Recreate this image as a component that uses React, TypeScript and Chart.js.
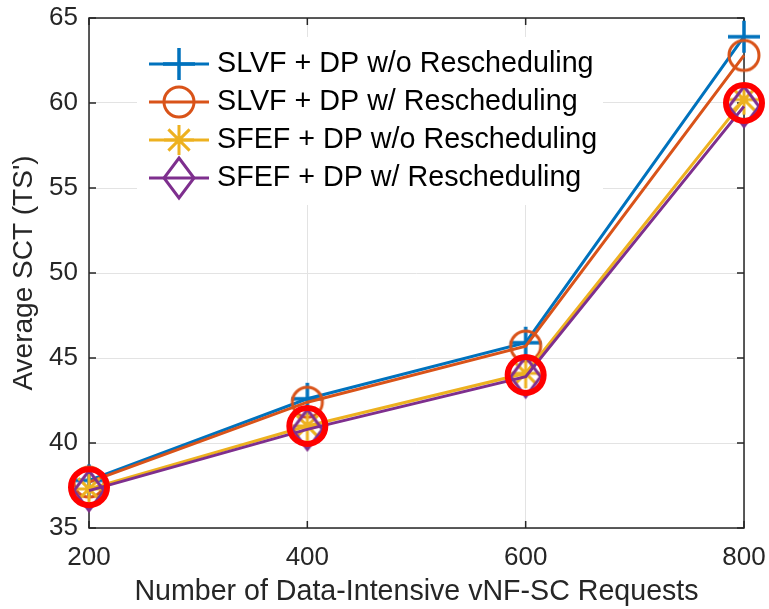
import React, { useEffect, useRef } from "react";
import { Chart, registerables } from "chart.js";

Chart.register(...registerables);

// ---- data ----
const requestCounts = [200, 400, 600, 800];
const slvfWithoutResched = [37.8, 42.6, 45.9, 63.9];
const slvfWithResched = [37.7, 42.4, 45.7, 62.8];
const sfefWithoutResched = [37.3, 41.0, 44.1, 60.2];
const sfefWithResched = [37.2, 40.8, 43.9, 59.8];
const highlightedPoints = [37.4, 41.0, 44.0, 60.0];
const seriesLabels = [
  "SLVF + DP w/o Rescheduling",
  "SLVF + DP w/ Rescheduling",
  "SFEF + DP w/o Rescheduling",
  "SFEF + DP w/ Rescheduling",
];
const xAxisTitle = "Number of Data-Intensive vNF-SC Requests";
const yAxisTitle = "Average SCT (TS')";

const COLORS = ["#0072BD", "#D95319", "#EDB120", "#7E2F8E"];
const MARKERS = ["plus", "circle", "star", "diamond"];
const FONT = "Arial, 'Liberation Sans', Helvetica, sans-serif";
const AXIS_COLOR = "#262626";

function makeMarker(kind: string, color: string): HTMLCanvasElement {
  const c = document.createElement("canvas");
  const w = 38;
  const h = kind === "diamond" ? 46 : 38;
  c.width = w;
  c.height = h;
  const ctx = c.getContext("2d")!;
  ctx.strokeStyle = color;
  ctx.lineWidth = 3;
  const cx = w / 2;
  const cy = h / 2;
  ctx.beginPath();
  if (kind === "plus") {
    ctx.lineWidth = 3.5;
    ctx.moveTo(cx - 16, cy);
    ctx.lineTo(cx + 16, cy);
    ctx.moveTo(cx, cy - 16);
    ctx.lineTo(cx, cy + 16);
  } else if (kind === "circle") {
    ctx.arc(cx, cy, 15, 0, Math.PI * 2);
  } else if (kind === "star") {
    for (let i = 0; i < 4; i++) {
      const a = (i * Math.PI) / 4;
      ctx.moveTo(cx - 15 * Math.cos(a), cy - 15 * Math.sin(a));
      ctx.lineTo(cx + 15 * Math.cos(a), cy + 15 * Math.sin(a));
    }
  } else if (kind === "diamond") {
    ctx.moveTo(cx, cy - 20);
    ctx.lineTo(cx + 15, cy);
    ctx.lineTo(cx, cy + 20);
    ctx.lineTo(cx - 15, cy);
    ctx.closePath();
  }
  ctx.stroke();
  return c;
}

export default function App() {
  const canvasRef = useRef<HTMLCanvasElement | null>(null);

  useEffect(() => {
    const canvas = canvasRef.current;
    if (!canvas) return;
    const markerImgs = MARKERS.map((m, i) => makeMarker(m, COLORS[i]));
    const seriesValues = [
      slvfWithoutResched,
      slvfWithResched,
      sfefWithoutResched,
      sfefWithResched,
    ];

    const framePlugin = {
      id: "frame",
      beforeDatasetsDraw(chart: any) {
        const { ctx, chartArea, scales } = chart;
        const { left, right, top, bottom } = chartArea;
        ctx.save();
        ctx.strokeStyle = AXIS_COLOR;
        ctx.lineWidth = 1.5;
        ctx.strokeRect(left, top, right - left, bottom - top);
        ctx.beginPath();
        const tl = 7;
        for (const v of requestCounts) {
          const x = scales.x.getPixelForValue(v);
          ctx.moveTo(x, bottom);
          ctx.lineTo(x, bottom - tl);
          ctx.moveTo(x, top);
          ctx.lineTo(x, top + tl);
        }
        for (let v = 35; v <= 65; v += 5) {
          const y = scales.y.getPixelForValue(v);
          ctx.moveTo(left, y);
          ctx.lineTo(left + tl, y);
          ctx.moveTo(right, y);
          ctx.lineTo(right - tl, y);
        }
        ctx.stroke();
        ctx.restore();
      },
      afterDraw(chart: any) {
        const { ctx } = chart;
        ctx.save();
        ctx.fillStyle = "#ffffff";
        ctx.fillRect(137, 37, 466, 168);
        const rowY = [64, 102, 140, 178];
        ctx.font = `28.7px ${FONT}`;
        ctx.textBaseline = "middle";
        ctx.textAlign = "left";
        for (let i = 0; i < 4; i++) {
          const y = rowY[i];
          ctx.strokeStyle = COLORS[i];
          ctx.lineWidth = 3;
          ctx.beginPath();
          ctx.moveTo(149, y);
          ctx.lineTo(209, y);
          ctx.stroke();
          const img = markerImgs[i];
          ctx.drawImage(img, 179 - img.width / 2, y - img.height / 2);
          ctx.fillStyle = "#000000";
          ctx.fillText(seriesLabels[i], 217, y);
        }
        ctx.restore();
      },
    };

    const datasets: any[] = seriesValues.map((vals, i) => ({
      label: seriesLabels[i],
      data: requestCounts.map((x, j) => ({ x, y: vals[j] })),
      borderColor: COLORS[i],
      backgroundColor: COLORS[i],
      borderWidth: 3,
      pointStyle: markerImgs[i],
      pointRadius: 16,
      pointHoverRadius: 16,
      clip: false,
      order: 4 - i,
      tension: 0,
    }));
    datasets.push({
      label: "highlight",
      data: requestCounts.map((x, j) => ({ x, y: highlightedPoints[j] })),
      showLine: false,
      pointStyle: "circle",
      pointRadius: 18,
      pointHoverRadius: 18,
      pointBorderWidth: 6,
      pointBorderColor: "#ff0000",
      pointBackgroundColor: "rgba(0,0,0,0)",
      clip: false,
      order: 0,
    });

    const chart = new Chart(canvas, {
      type: "line",
      data: { datasets },
      options: {
        animation: false,
        responsive: false,
        maintainAspectRatio: false,
        events: [],
        layout: { autoPadding: false, padding: { top: 18, right: 25, left: 0, bottom: 0 } },
        plugins: {
          legend: { display: false },
          tooltip: { enabled: false },
        },
        scales: {
          x: {
            type: "linear",
            min: 200,
            max: 800,
            afterFit: (s: any) => {
              s.height = 81;
              s.paddingLeft = 0;
              s.paddingRight = 0;
            },
            afterBuildTicks: (s: any) => {
              s.ticks = requestCounts.map((v) => ({ value: v }));
            },
            grid: { color: "#e3e3e3", lineWidth: 1, drawTicks: false },
            border: { display: false },
            ticks: {
              padding: 14,
              color: AXIS_COLOR,
              font: { family: FONT, size: 26 },
              maxRotation: 0,
            },
            title: {
              display: true,
              text: xAxisTitle,
              color: AXIS_COLOR,
              font: { family: FONT, size: 28.6, lineHeight: 1.2 },
              padding: { top: 0, bottom: 0 },
            },
          },
          y: {
            type: "linear",
            min: 35,
            max: 65,
            afterFit: (s: any) => {
              s.width = 89;
              s.paddingTop = 0;
              s.paddingBottom = 0;
            },
            grid: { color: "#e3e3e3", lineWidth: 1, drawTicks: false },
            border: { display: false },
            ticks: {
              stepSize: 5,
              padding: 11,
              color: AXIS_COLOR,
              font: { family: FONT, size: 26 },
            },
            title: {
              display: true,
              text: yAxisTitle,
              color: AXIS_COLOR,
              font: { family: FONT, size: 28, lineHeight: 1.2 },
              padding: { top: 7, bottom: 0 },
            },
          },
        },
      },
      plugins: [framePlugin],
    });
    return () => chart.destroy();
  }, []);

  return (
    <div style={{ position: "absolute", left: 0, top: 0, width: 769, height: 609, background: "#ffffff" }}>
      <canvas ref={canvasRef} width={769} height={609} style={{ width: 769, height: 609, display: "block" }} />
    </div>
  );
}
